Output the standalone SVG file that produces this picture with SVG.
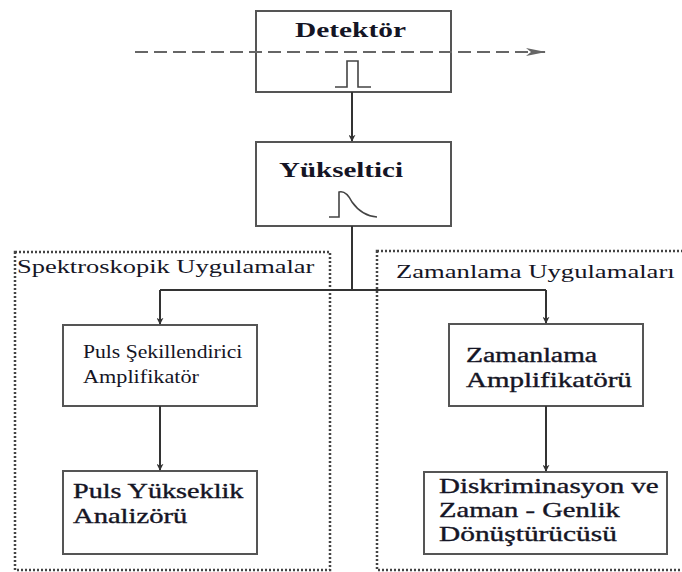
<svg xmlns="http://www.w3.org/2000/svg" width="682" height="572" viewBox="0 0 682 572">
<style>
text{font-family:'Liberation Serif','Times New Roman',serif;fill:#151525;}
.t{font-size:20px;stroke:#151525;stroke-width:0.35;}
.b{font-weight:bold;}
.box{fill:#fff;stroke:#555;stroke-width:2;}
.grp{fill:none;stroke:#444;stroke-width:2.5;stroke-dasharray:2 2;}
.con{fill:none;stroke:#333;stroke-width:2;}
.sig{fill:none;stroke:#444;stroke-width:1.6;}
</style>
<defs>
<marker id="arr" viewBox="0 0 10 10" refX="9" refY="5" markerWidth="7" markerHeight="7" orient="auto" markerUnits="userSpaceOnUse">
<path d="M0,0 L10,5 L0,10 L3,5 Z" fill="#333"/>
</marker>
<marker id="arr2" viewBox="0 0 20 10" refX="19" refY="5" markerWidth="22" markerHeight="10" orient="auto" markerUnits="userSpaceOnUse">
<path d="M0,1 L20,5 L0,9 L5,5 Z" fill="#666"/>
</marker>
</defs>

<g id="group-spektroskopik">
<rect class="grp" x="15" y="252" width="315" height="318"/>
<text transform="translate(17,273) scale(1.47,1)" font-size="18">Spektroskopik Uygulamalar</text>
</g>
<g id="group-zamanlama">
<rect class="grp" x="377" y="251" width="310" height="319"/>
<text transform="translate(396,278) scale(1.48,1)" font-size="18">Zamanlama Uygulamaları</text>
</g>

<g id="detektor">
<rect class="box" x="256" y="11" width="195" height="81"/>
<text class="b" font-size="20" transform="translate(295,37) scale(1.47,1)">Detektör</text>
<polyline class="sig" points="335,87 347,87 347,61 358,61 358,87 371,87"/>
</g>

<g id="yukseltici">
<rect class="box" x="256" y="142" width="195" height="84"/>
<text class="b" transform="translate(279,177) scale(1.38,1)" font-size="21">Yükseltici</text>
<path class="sig" d="M329,217 L339,217 L339,192 Q346,190 352,202 Q362,216 377,217"/>
</g>

<g id="puls-sekillendirici">
<rect class="box" x="63" y="325" width="194" height="81"/>
<text transform="translate(83,358) scale(1.14,1)" font-size="19">Puls Şekillendirici</text>
<text transform="translate(83,383) scale(1.17,1)" font-size="19">Amplifikatör</text>
</g>

<g id="puls-yukseklik">
<rect class="box" x="63" y="471" width="194" height="83"/>
<text class="t" transform="translate(73,498) scale(1.41,1)">Puls Yükseklik</text>
<text class="t" transform="translate(73,523) scale(1.43,1)">Analizörü</text>
</g>

<g id="zamanlama-amplifikatoru">
<rect class="box" x="449" y="324" width="194" height="82"/>
<text class="t" transform="translate(466,362) scale(1.39,1)">Zamanlama</text>
<text class="t" transform="translate(466,387) scale(1.45,1)">Amplifikatörü</text>
</g>

<g id="diskriminasyon">
<rect class="box" x="424" y="472" width="243" height="82"/>
<text class="t" transform="translate(439,493) scale(1.45,1)">Diskriminasyon ve</text>
<text class="t" transform="translate(439,517) scale(1.43,1)">Zaman - Genlik</text>
<text class="t" transform="translate(439,541) scale(1.47,1)">Dönüştürücüsü</text>
</g>

<g id="connectors">
<line x1="135" y1="52" x2="545" y2="52" stroke="#666" stroke-width="2.2" stroke-dasharray="13 6" marker-end="url(#arr2)"/>
<line class="con" x1="352" y1="92" x2="352" y2="141" marker-end="url(#arr)"/>
<polyline class="con" points="352,226 352,290"/>
<polyline class="con" points="160,290 546,290"/>
<line class="con" x1="160" y1="290" x2="160" y2="324" marker-end="url(#arr)"/>
<line class="con" x1="546" y1="290" x2="546" y2="323" marker-end="url(#arr)"/>
<line class="con" x1="160" y1="406" x2="160" y2="470" marker-end="url(#arr)"/>
<line class="con" x1="546" y1="406" x2="546" y2="471" marker-end="url(#arr)"/>
</g>
</svg>
